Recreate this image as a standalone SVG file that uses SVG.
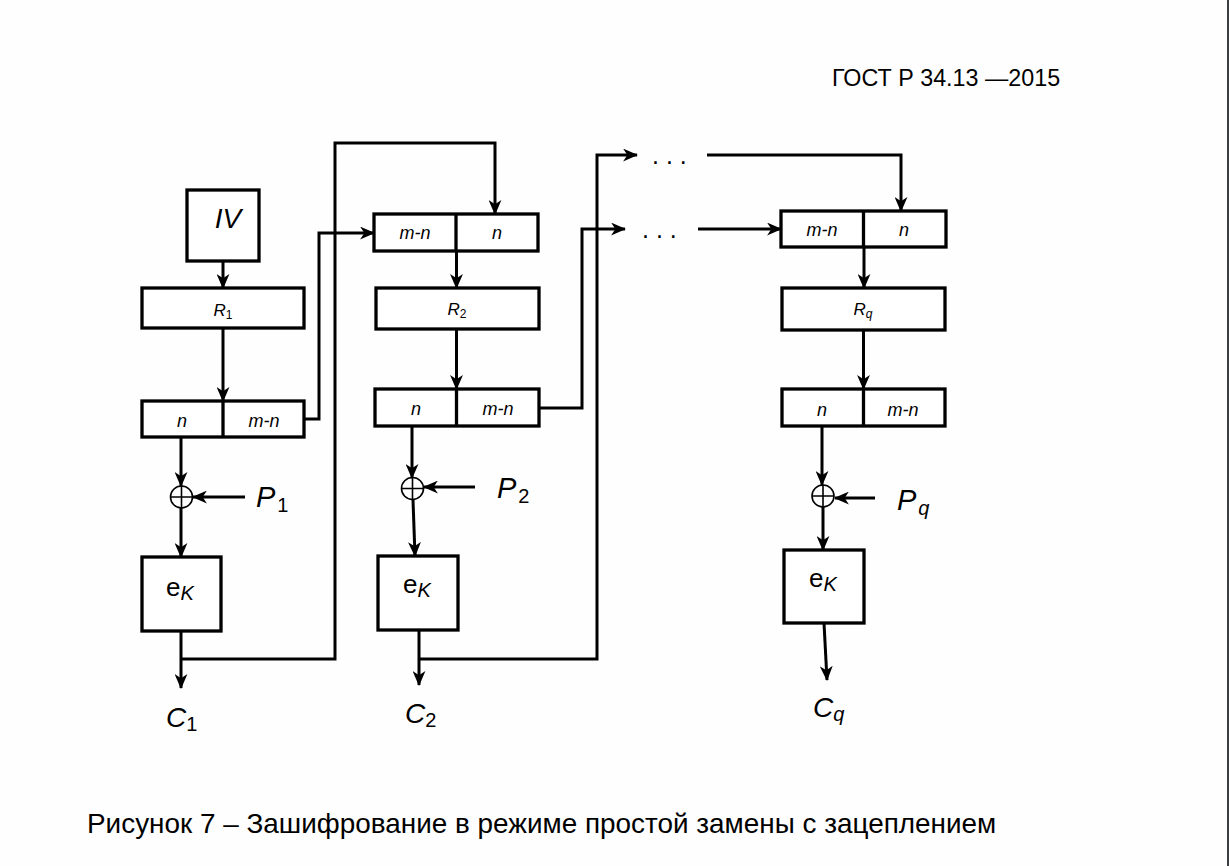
<svg xmlns="http://www.w3.org/2000/svg" width="1229" height="866" viewBox="0 0 1229 866">
<style>
.box{fill:#fff;stroke:#000;stroke-width:3.3}
.ln{fill:none;stroke:#000;stroke-width:3.3}
.arr{fill:none;stroke:#000;stroke-width:3;marker-end:url(#ah)}
.xor{fill:none;stroke:#000;stroke-width:1.6}
text{font-family:"Liberation Sans",Arial,sans-serif;fill:#000}
.it{font-style:italic}
.cell{font-size:18px;font-style:italic;text-anchor:middle}
</style>
<defs>
<marker id="ah" viewBox="0 0 14 12" refX="13" refY="6" markerWidth="15" markerHeight="13" markerUnits="userSpaceOnUse" orient="auto">
<path d="M0,0 L14,6 L0,12 L4,6 z" fill="#000"/>
</marker>
</defs>
<rect width="1229" height="866" fill="#fefefe"/>
<rect x="1227" y="0" width="2" height="866" fill="#3c3f42"/>

<text x="832" y="86" font-size="23.3">ГОСТ Р 34.13 —2015</text>

<g id="connectors">
<!-- column 1 -->
<line class="arr" x1="223" y1="261" x2="223" y2="288"/>
<line class="arr" x1="223" y1="328" x2="223" y2="401"/>
<polyline class="arr" points="304,419 319,419 319,233 374,233"/>
<line class="arr" x1="181" y1="437" x2="181" y2="486"/>
<line class="arr" x1="245" y1="497" x2="193" y2="497"/>
<line class="arr" x1="181" y1="508" x2="181" y2="557"/>
<line class="arr" x1="181" y1="631" x2="181" y2="688"/>
<polyline class="arr" points="181,659 335,659 335,143 495,143 495,214"/>
<!-- column 2 -->
<line class="arr" x1="456.5" y1="251" x2="456.5" y2="288"/>
<line class="arr" x1="456.5" y1="329" x2="456.5" y2="389"/>
<polyline class="arr" points="539,408 582,408 582,229 625,229"/>
<line class="arr" x1="412" y1="426" x2="412" y2="478"/>
<line class="arr" x1="475" y1="487" x2="424" y2="487"/>
<line class="arr" x1="413" y1="500" x2="415" y2="556"/>
<line class="arr" x1="419" y1="630" x2="419" y2="685"/>
<polyline class="arr" points="419,659 597,659 597,155 637,155"/>
<!-- dots links -->
<polyline class="arr" points="707,155 901,155 901,211"/>
<line class="arr" x1="698" y1="229" x2="781" y2="229"/>
<!-- column 3 -->
<line class="arr" x1="864" y1="247" x2="864" y2="288"/>
<line class="arr" x1="863.5" y1="330" x2="863.5" y2="389"/>
<line class="arr" x1="822" y1="426" x2="822" y2="485"/>
<line class="arr" x1="875" y1="498" x2="835" y2="498"/>
<line class="arr" x1="823" y1="507" x2="823" y2="550"/>
<line class="arr" x1="824" y1="623" x2="827" y2="680"/>
</g>

<g id="iv">
<rect class="box" x="187" y="190" width="72" height="71"/>
<text x="228" y="228" font-size="28" class="it" text-anchor="middle">IV</text>
</g>
<g id="r1">
<rect class="box" x="142" y="288" width="162" height="40"/>
<text x="223" y="316" font-size="17" text-anchor="middle"><tspan class="it">R</tspan><tspan font-size="12" dy="3">1</tspan></text>
</g>
<g id="split1">
<rect class="box" x="142" y="401" width="162" height="36"/>
<line class="ln" x1="223" y1="401" x2="223" y2="437"/>
<text class="cell" x="182" y="427">n</text>
<text class="cell" x="264" y="427">m-n</text>
</g>
<g id="xor1">
<circle class="xor" cx="181.5" cy="497" r="11"/>
<path class="xor" d="M170.5,497 H192.5 M181.5,486 V508"/>
</g>
<g id="p1"><text x="256" y="507" font-size="29" class="it">P<tspan font-size="20" font-style="normal" dx="2" dy="5">1</tspan></text></g>
<g id="ek1">
<rect class="box" x="142" y="557" width="79" height="74"/>
<text x="166" y="596" font-size="26">e<tspan class="it" font-size="20" dy="4">K</tspan></text>
</g>
<g id="c1"><text x="166" y="727" font-size="28" class="it">C<tspan font-size="20" font-style="normal" dy="4">1</tspan></text></g>

<g id="reg2">
<rect class="box" x="374" y="214" width="164" height="37"/>
<line class="ln" x1="456" y1="214" x2="456" y2="251"/>
<text class="cell" x="415" y="239">m-n</text>
<text class="cell" x="497" y="239">n</text>
</g>
<g id="r2">
<rect class="box" x="376" y="288" width="163" height="41"/>
<text x="457" y="315" font-size="17" text-anchor="middle"><tspan class="it">R</tspan><tspan font-size="12" dy="3">2</tspan></text>
</g>
<g id="split2">
<rect class="box" x="375" y="389" width="164" height="37"/>
<line class="ln" x1="456.5" y1="389" x2="456.5" y2="426"/>
<text class="cell" x="416" y="415">n</text>
<text class="cell" x="498" y="415">m-n</text>
</g>
<g id="xor2">
<circle class="xor" cx="412.5" cy="488.5" r="11"/>
<path class="xor" d="M401.5,488.5 H423.5 M412.5,477.5 V499.5"/>
</g>
<g id="p2"><text x="497" y="498" font-size="29" class="it">P<tspan font-size="20" font-style="normal" dx="2" dy="5">2</tspan></text></g>
<g id="ek2">
<rect class="box" x="378" y="556" width="80" height="74"/>
<text x="403" y="593" font-size="26">e<tspan class="it" font-size="20" dy="4">K</tspan></text>
</g>
<g id="c2"><text x="405" y="723" font-size="28" class="it">C<tspan font-size="20" font-style="normal" dy="4">2</tspan></text></g>

<g id="dots">
<text x="652" y="164" font-size="25">. . .</text>
<text x="642" y="238" font-size="25">. . .</text>
</g>

<g id="regq">
<rect class="box" x="781" y="211" width="165" height="36"/>
<line class="ln" x1="863.5" y1="211" x2="863.5" y2="247"/>
<text class="cell" x="822" y="236">m-n</text>
<text class="cell" x="904" y="236">n</text>
</g>
<g id="rq">
<rect class="box" x="782" y="288" width="163" height="42"/>
<text x="863" y="315" font-size="17" text-anchor="middle"><tspan class="it">R</tspan><tspan class="it" font-size="12" dy="3">q</tspan></text>
</g>
<g id="splitq">
<rect class="box" x="782" y="389" width="163" height="37"/>
<line class="ln" x1="863.5" y1="389" x2="863.5" y2="426"/>
<text class="cell" x="822" y="416">n</text>
<text class="cell" x="903" y="416">m-n</text>
</g>
<g id="xorq">
<circle class="xor" cx="823" cy="496" r="11"/>
<path class="xor" d="M812,496 H834 M823,485 V507"/>
</g>
<g id="pq"><text x="897" y="510" font-size="29" class="it">P<tspan font-size="20" dx="2" dy="5">q</tspan></text></g>
<g id="ekq">
<rect class="box" x="784" y="550" width="80" height="73"/>
<text x="809" y="587" font-size="26">e<tspan class="it" font-size="20" dy="4">K</tspan></text>
</g>
<g id="cq"><text x="813" y="717" font-size="28" class="it">C<tspan font-size="20" dy="4">q</tspan></text></g>

<text x="87" y="833" font-size="27.9">Рисунок 7 – Зашифрование в режиме простой замены с зацеплением</text>
</svg>
